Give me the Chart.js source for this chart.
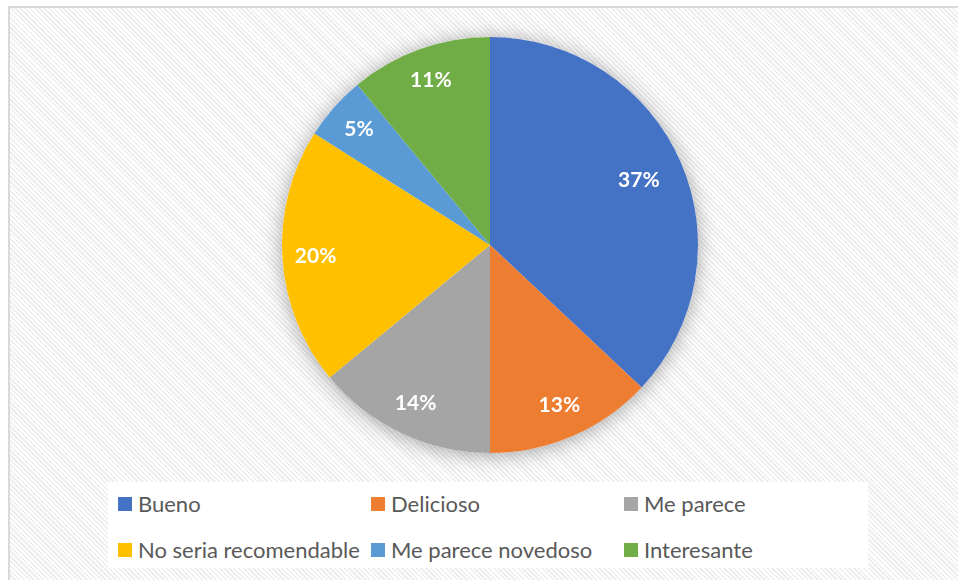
<!DOCTYPE html>
<html lang="es">
<head>
<meta charset="UTF-8">
<title>Opiniones</title>
<script src="https://cdn.jsdelivr.net/npm/chart.js"></script>
<style>
  html, body { margin: 0; padding: 0; background: #fff; }
  body { width: 958px; height: 580px; overflow: hidden; position: relative; font-family: Lato, "Open Sans", sans-serif; }
  .frame {
    position: absolute; left: 8px; top: 6px; width: 960px; height: 590px;
    border: 2px solid #d9d9d9;
    background: repeating-linear-gradient(45deg, #ffffff 0px, #ffffff 1.7px, #eeeeee 1.7px, #eeeeee 3.4px);
  }
  .chart-box { position: absolute; left: 260px; top: 15px; width: 460px; height: 460px; }
  .legend {
    position: absolute; left: 108px; top: 482px; width: 760px; height: 86px;
    background: #fff;
    display: grid; grid-template-columns: 253px 253px 254px; grid-auto-rows: 46px;
  }
  .legend .item { display: flex; align-items: center; padding-left: 10px; padding-bottom: 4px; box-sizing: border-box; font-size: 22px; color: #595959; white-space: nowrap; }
  .legend .sw { width: 14px; height: 14px; margin-right: 6px; margin-top: 2px; flex: none; }
</style>
</head>
<body>
<div class="frame"></div>
<div class="chart-box"><canvas id="pie"></canvas></div>
<div class="legend" id="legend"></div>

<script>
// datos
const categories = ['Bueno', 'Delicioso', 'Me parece', 'No seria recomendable', 'Me parece novedoso', 'Interesante'];
const percents = [37, 13, 14, 20, 5, 11];
const colors = ['#4472c4', '#ed7d31', '#a5a5a5', '#ffc000', '#5b9bd5', '#70ad47'];

// sombra del pastel + etiquetas de porcentaje
const pieExtras = {
  id: 'pieExtras',
  beforeDatasetsDraw(chart) {
    const arc = chart.getDatasetMeta(0).data[0];
    if (!arc) return;
    const ctx = chart.ctx;
    ctx.save();
    ctx.shadowColor = 'rgba(0,0,0,0.35)';
    ctx.shadowBlur = 20;
    ctx.shadowOffsetY = 2;
    ctx.fillStyle = '#fff';
    ctx.beginPath();
    ctx.arc(arc.x, arc.y, arc.outerRadius, 0, Math.PI * 2);
    ctx.fill();
    ctx.restore();
  },
  afterDatasetsDraw(chart) {
    const ctx = chart.ctx;
    ctx.save();
    ctx.fillStyle = '#fff';
    ctx.font = 'bold 21px Lato, "Open Sans", sans-serif';
    ctx.textAlign = 'center';
    ctx.textBaseline = 'middle';
    chart.getDatasetMeta(0).data.forEach((a, i) => {
      const mid = (a.startAngle + a.endAngle) / 2;
      const r = a.outerRadius * (percents[i] > 30 ? 0.78 : 0.84);
      ctx.fillText(percents[i] + '%', a.x + Math.cos(mid) * r, a.y + Math.sin(mid) * r);
    });
    ctx.restore();
  }
};

new Chart(document.getElementById('pie').getContext('2d'), {
  type: 'pie',
  data: {
    labels: categories,
    datasets: [{
      data: percents,
      backgroundColor: colors,
      borderWidth: 0
    }]
  },
  options: {
    responsive: true,
    maintainAspectRatio: false,
    animation: false,
    layout: { padding: 22 },
    plugins: {
      legend: { display: false },
      tooltip: { enabled: false }
    }
  },
  plugins: [pieExtras]
});

// leyenda
const legend = document.getElementById('legend');
categories.forEach((c, i) => {
  const item = document.createElement('div');
  item.className = 'item';
  item.innerHTML = '<span class="sw" style="background:' + colors[i] + '"></span>' + c;
  legend.appendChild(item);
});
</script>
</body>
</html>
